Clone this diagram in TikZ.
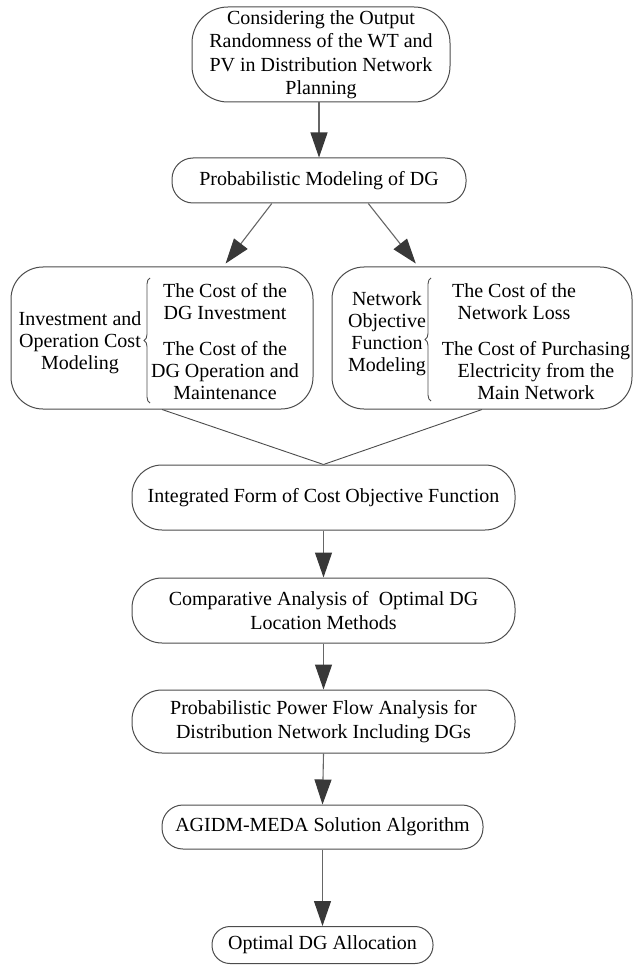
\documentclass[tikz,border=0pt]{standalone}
\usepackage{fontspec}
\setmainfont{Liberation Serif}
\usetikzlibrary{arrows.meta,calc,decorations.pathreplacing}
\begin{document}
\begin{tikzpicture}[x=1pt,y=-1pt,
  box/.style={draw=black!70,line width=1pt,align=center,inner sep=0pt,
    font=\fontsize{20}{23.5}\selectfont},
  txt/.style={align=center,inner sep=0pt,font=\fontsize{20}{22}\selectfont},
  arr/.style={draw=black!60,line width=1.1pt,
    -{Triangle[width=17pt,length=25pt,color=black!78]}},
  ln/.style={draw=black!70,line width=0.9pt},
  brc/.style={draw=black!70,line width=0.9pt,decorate,
    decoration={brace,amplitude=6pt}}]
\useasboundingbox (0,0) rectangle (633,965);

\node[box,minimum width=258,minimum height=95,rounded corners=36] (A) at (321,54.5)
  {Considering the Output\\Randomness of the WT and\\PV in Distribution Network\\Planning};
\node[box,minimum width=294,minimum height=45,rounded corners=21] (B) at (319,180.5)
  {Probabilistic Modeling of DG};

\node[box,minimum width=302,minimum height=142,rounded corners=32] (L) at (162,338) {};
\node[box,minimum width=300,minimum height=142,rounded corners=32] (R) at (482,338) {};

\node[txt] (L1) at (80,343) {Investment and\\Operation Cost\\Modeling};
\node[txt] (L2) at (225,302) {The Cost of the\\DG Investment};
\node[txt] (L3) at (225,371) {The Cost of the\\DG Operation and\\Maintenance};
\draw[brc] (150,403) -- (150,278);

\node[txt] (R1) at (387,334) {Network\\Objective\\Function\\Modeling};
\node[txt] (R2) at (514,302) {The Cost of the\\Network Loss};
\node[txt] (R3) at (536,371) {The Cost of Purchasing\\Electricity from the\\Main Network};
\draw[brc] (431,401) -- (431,278);

\node[box,minimum width=383,minimum height=65,rounded corners=30] (C) at (323.5,497.5)
  {Integrated Form of Cost Objective Function};
\node[box,minimum width=383,minimum height=65,rounded corners=30] (D) at (323.5,610.5)
  {Comparative Analysis of\ \ Optimal DG\\Location Methods};
\node[box,minimum width=383,minimum height=63,rounded corners=30] (E) at (323.5,721.5)
  {Probabilistic Power Flow Analysis for\\Distribution Network Including DGs};
\node[box,minimum width=321,minimum height=44,rounded corners=21] (F) at (322.5,827)
  {AGIDM-MEDA Solution Algorithm};
\node[box,minimum width=221,minimum height=37,rounded corners=18] (G) at (322.5,945)
  {Optimal DG Allocation};

\draw[arr] (A.south -| B.north) -- (B.north);
\draw[arr] ($(B.south west)!0.34!(B.south east)$) -- ($(L.north west)!0.71!(L.north east)+(0,-3)$);
\draw[arr] ($(B.south west)!0.667!(B.south east)$) -- ($(R.north west)!0.28!(R.north east)+(0,-3)$);
\draw[ln] (L.south) -- (C.north);
\draw[ln] (R.south) -- (C.north);
\draw[arr] (C.south) -- (D.north);
\draw[arr] (D.south) -- (E.north);
\draw[arr] (E.south) -- (F.north);
\draw[arr] (F.south) -- (G.north);
\end{tikzpicture}
\end{document}
